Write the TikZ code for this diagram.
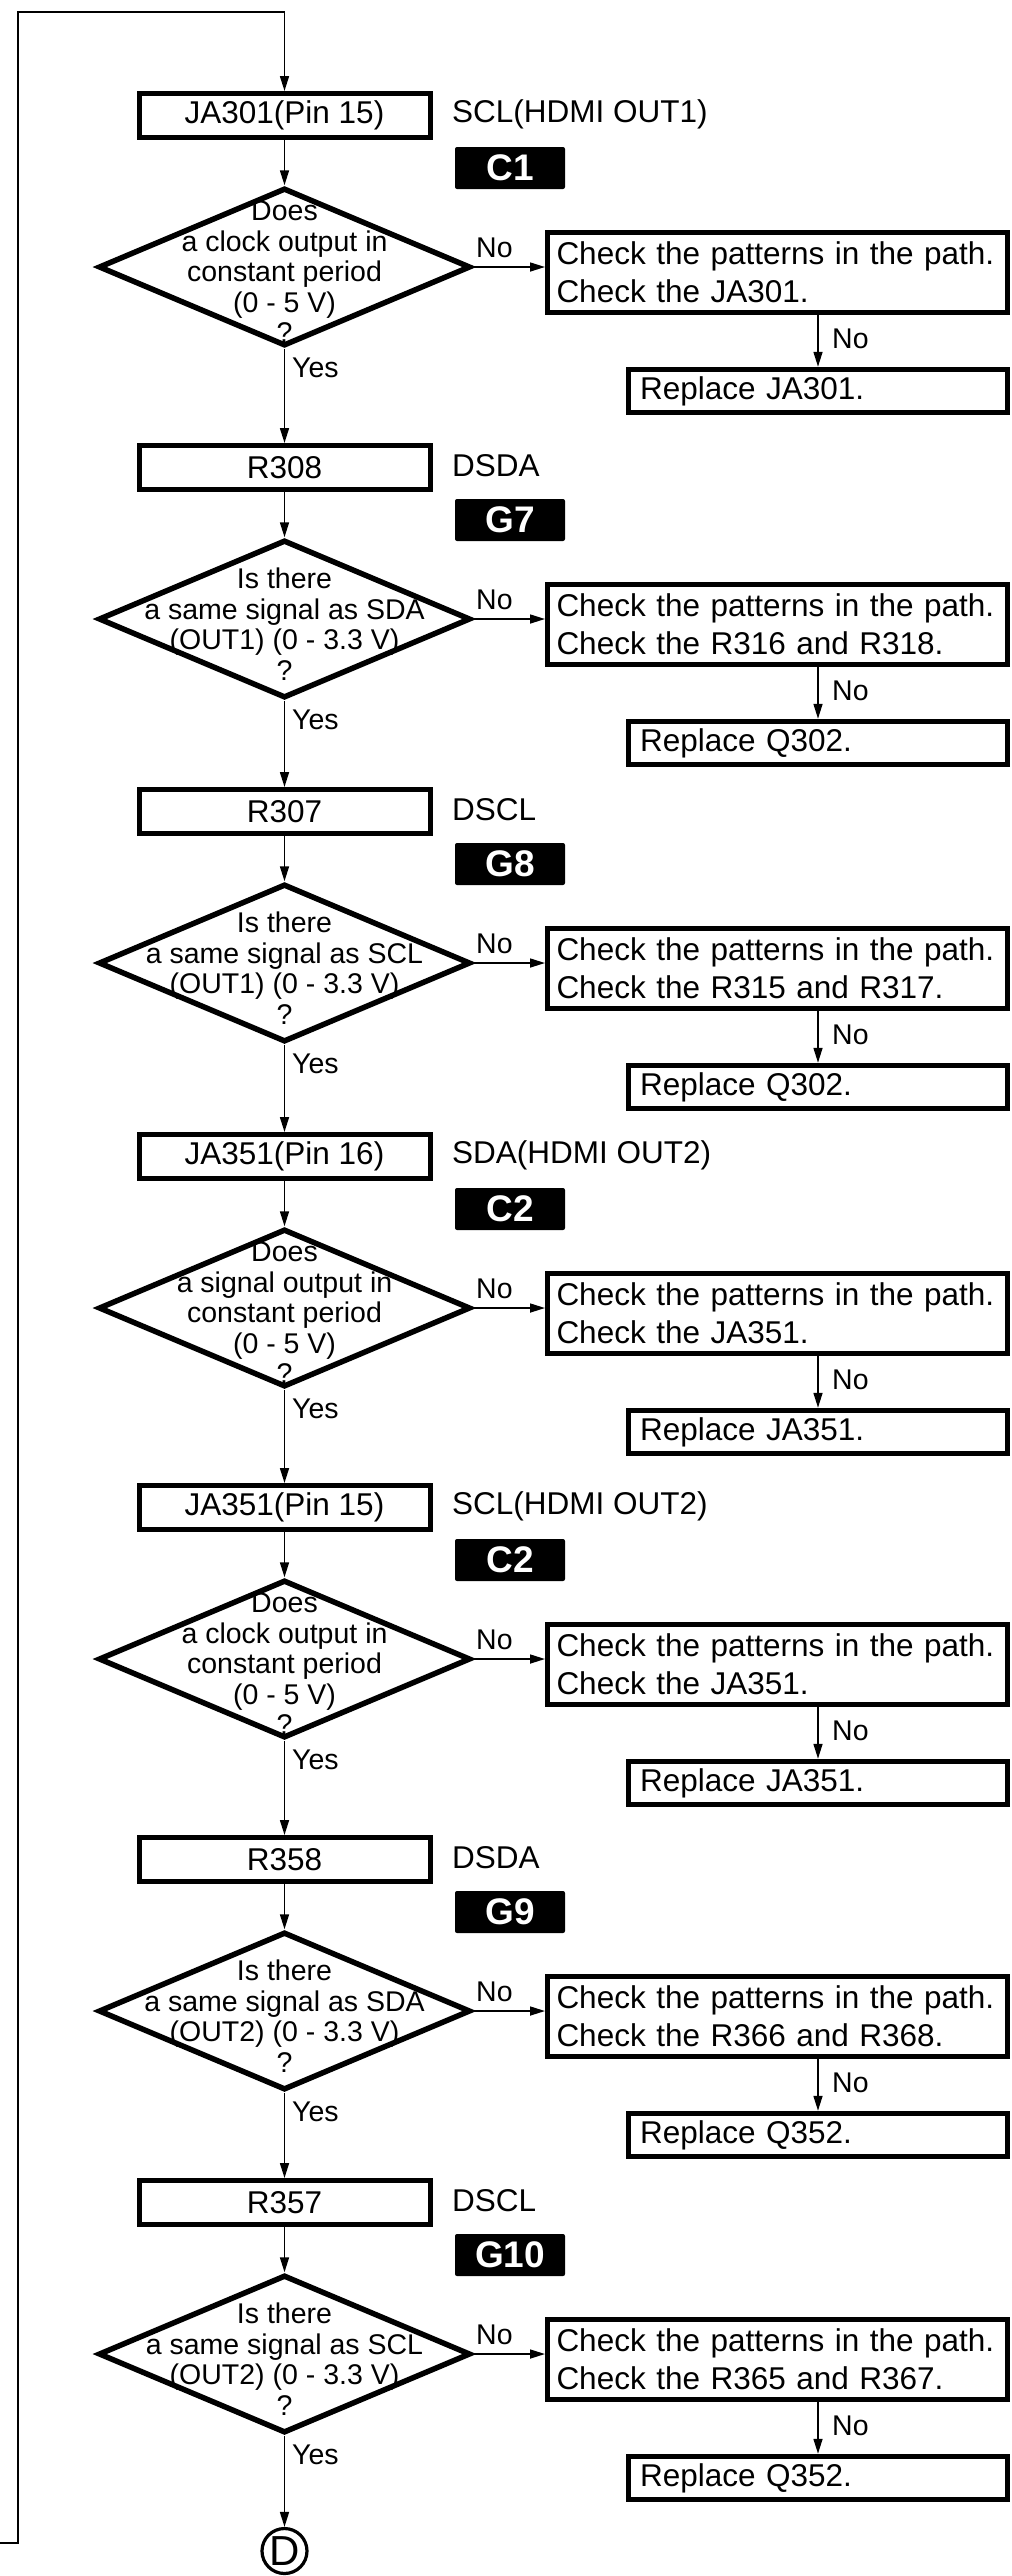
\documentclass[tikz,border=0pt]{standalone}
\usepackage{fontspec}
\setmainfont{Liberation Sans}
\usetikzlibrary{arrows.meta,shapes.geometric}
\begin{document}
\begin{tikzpicture}[x=1pt,y=-1pt,
  conn/.style={line width=1.6pt,-{Triangle[length=15pt,width=9pt]}},
  mainbox/.style={draw,line width=5pt,minimum width=291pt,minimum height=44pt,inner sep=0pt,font=\fontsize{31.5}{38}\selectfont},
  dia/.style={draw,diamond,line width=5.5pt,minimum width=372pt,minimum height=158pt,inner sep=0pt},
  diatext/.style={align=center,inner sep=0pt,font=\fontsize{28.5}{30.5}\selectfont},
  side/.style={anchor=west,inner sep=0pt,font=\fontsize{31.5}{38}\selectfont},
  tag/.style={fill=black,text=white,rounded corners=2pt,minimum width=110pt,minimum height=42pt,inner sep=0pt,font=\fontsize{37}{37}\selectfont\bfseries},
  chk/.style={draw,line width=5pt,minimum width=460pt,minimum height=80pt,text width=442pt,inner xsep=9pt,inner ysep=0pt,align=left,font=\fontsize{31.5}{38}\selectfont},
  rep/.style={draw,line width=5pt,minimum width=379pt,minimum height=43.5pt,text width=356pt,inner xsep=11.5pt,inner ysep=0pt,align=left,font=\fontsize{31.5}{38}\selectfont},
  lbl/.style={anchor=west,inner sep=0pt,font=\fontsize{28.5}{30}\selectfont},
  endc/.style={draw,circle,line width=3.2pt,minimum size=45pt,inner sep=0pt,font=\fontsize{42}{42}\selectfont}
]
\useasboundingbox (0,0) rectangle (1012,2576);

\foreach \T/\bx/\lb/\tg/\q/\ck/\rp [count=\i] in {
  91/{JA301(Pin 15)}/{SCL(HDMI OUT1)}/C1/{Does\\a clock output in\\constant period\\(0 - 5 V)\\?}/{Check the JA301.}/{Replace JA301.},
  443/{R308}/{DSDA}/G7/{Is there\\a same signal as SDA\\(OUT1) (0 - 3.3 V)\\?}/{Check the R316 and R318.}/{Replace Q302.},
  787/{R307}/{DSCL}/G8/{Is there\\a same signal as SCL\\(OUT1) (0 - 3.3 V)\\?}/{Check the R315 and R317.}/{Replace Q302.},
  1132/{JA351(Pin 16)}/{SDA(HDMI OUT2)}/C2/{Does\\a signal output in\\constant period\\(0 - 5 V)\\?}/{Check the JA351.}/{Replace JA351.},
  1483/{JA351(Pin 15)}/{SCL(HDMI OUT2)}/C2/{Does\\a clock output in\\constant period\\(0 - 5 V)\\?}/{Check the JA351.}/{Replace JA351.},
  1835/{R358}/{DSDA}/G9/{Is there\\a same signal as SDA\\(OUT2) (0 - 3.3 V)\\?}/{Check the R366 and R368.}/{Replace Q352.},
  2178/{R357}/{DSCL}/G10/{Is there\\a same signal as SCL\\(OUT2) (0 - 3.3 V)\\?}/{Check the R365 and R367.}/{Replace Q352.}}
{
  \node[mainbox] (b\i) at (284.5,\T+24.5) {\bx};
  \node[side] (l\i) at (452,\T+23) {\lb};
  \node[tag] (t\i) at (510,\T+77) {\tg};
  \node[dia] (d\i) at (284.5,\T+176) {};
  \node[diatext] (q\i) at (284.5,\T+181) {\q};
  \node[chk] (c\i) at (777.5,\T+181.5) {Check the patterns in the path.\\\ck};
  \node[rep] (r\i) at (818,\T+300) {\rp};
  \draw[conn] (b\i) -- (d\i);
  \draw[conn] (d\i.east) -- (d\i.east -| c\i.west);
  \node[lbl] (n\i) at (476,\T+157) {No};
  \draw[conn] (r\i.north |- c\i.south) -- (r\i.north);
  \node[lbl] (m\i) at (832,\T+248) {No};
  \node[lbl] (y\i) at (292,\T+277) {Yes};
}

\foreach \i/\j in {1/2,2/3,3/4,4/5,5/6,6/7}
  \draw[conn] (d\i) -- (b\j);

\node[endc] (D) at (284.5,2551) {D};
\draw[conn] (d7) -- (D);

\coordinate (in) at (0,2543);
\draw[conn] (in) -- (18,2543) -- (18,12) -- (284.5,12) -- (b1);
\end{tikzpicture}
\end{document}
